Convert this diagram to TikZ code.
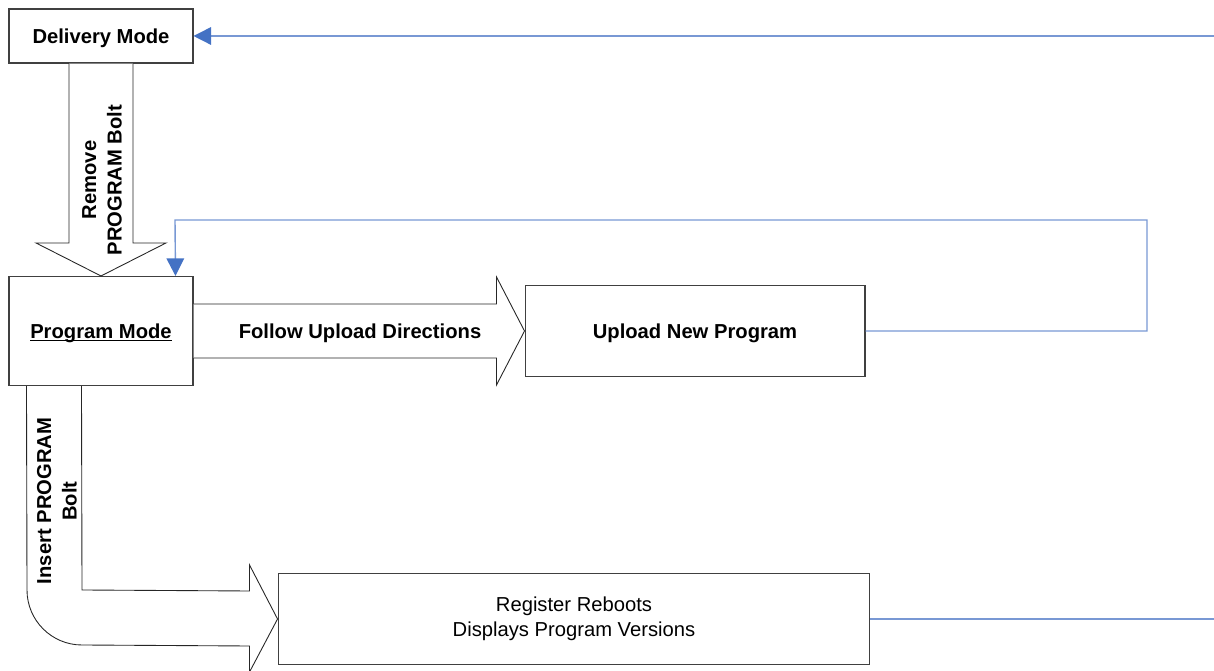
\documentclass[tikz,border=0pt]{standalone}
\usepackage{fontspec}
\setmainfont{Liberation Sans}
\usetikzlibrary{arrows.meta,calc}

\definecolor{tipblue}{RGB}{68,114,196}
\definecolor{lineblue}{RGB}{120,152,212}

% underline close to the baseline
\newcommand{\modeline}[1]{\setbox0\hbox{#1}\rlap{\rule[-1.6pt]{\wd0}{0.7pt}}\box0}

\begin{document}
\begin{tikzpicture}[x=0.02cm,y=-0.02cm,
    box/.style={draw=black!75, line width=0.6pt, fill=white, align=center,
                font=\fontsize{11.5}{14.5}\selectfont},
    boldbox/.style={box, text depth=0pt, font=\fontsize{11.5}{14.5}\selectfont\bfseries},
    bigarrow/.style={draw=black!85, line width=0.5pt, fill=white},
    arrowtext/.style={align=center, font=\fontsize{11.5}{14.5}\selectfont\bfseries},
    fbline/.style={draw=lineblue, line width=0.8pt},
    feedback/.style={fbline, -{Triangle[length=10pt,width=10pt,color=tipblue]}}]

    % Fix the page size
    \useasboundingbox (0,0) rectangle (1214,671);

    % Draw the boxes
    \node[boldbox, minimum width=3.68cm, minimum height=1.08cm] (deliv) at (101,36) {Delivery Mode};
    \node[boldbox, minimum width=3.68cm, minimum height=2.18cm] (prog) at (101,331) {\modeline{Program Mode}};
    \node[boldbox, minimum width=6.8cm, minimum height=1.82cm] (upload) at (695,331) {Upload New Program};
    \node[box, minimum width=11.84cm, minimum height=1.82cm] (reg) at (574,619)
        {Register Reboots\\Displays Program Versions};

    % Down arrow from delivery to program
    \draw[bigarrow] ($(deliv.south)+(-32,0)$) -- ($(prog.north)+(-32,-33)$)
        -- ($(prog.north)+(-65,-33)$) -- (prog.north) -- ($(prog.north)+(65,-33)$)
        -- ($(prog.north)+(32,-33)$) -- ($(deliv.south)+(32,0)$);
    \node[arrowtext, rotate=90] (remove) at (102,180) {Remove\\PROGRAM Bolt};

    % Right arrow from program to upload
    \draw[bigarrow] ($(prog.east)+(0,-27)$) -- ($(upload.west)+(-28,-27)$)
        -- ($(upload.west)+(-28,-54)$) -- (upload.west) -- ($(upload.west)+(-28,54)$)
        -- ($(upload.west)+(-28,27)$) -- ($(prog.east)+(0,27)$);
    \node[arrowtext, text depth=0pt] (follow) at (360,331) {Follow Upload Directions};

    % Bent arrow from program to register
    \coordinate (outer) at ($(prog.south west)+(18,0)$);
    \coordinate (inner) at ($(prog.south west)+(73,0)$);
    \draw[bigarrow] (outer) -- (27,590) arc[start angle=180, end angle=90, radius=55]
        -- ($(reg.west)+(-28,27)$) -- ($(reg.west)+(-28,53)$) -- (reg.west)
        -- ($(reg.west)+(-28,-54)$) -- ($(reg.west)+(-28,-28)$) -- (82,590) -- (inner);
    \node[arrowtext, rotate=90] (insert) at (57,501) {Insert PROGRAM\\Bolt};

    % Blue feedback lines
    \coordinate (topright) at (1214,36);
    \coordinate (botright) at (reg.east -| topright);
    \draw[feedback] (topright) -- (deliv.east);
    \draw[feedback] (upload.east) -- (1147,331) -- (1147,220) -- (175,220)
        -- ($(prog.north east)+(-18,0)$);
    \draw[fbline] (reg.east) -- (botright);

\end{tikzpicture}
\end{document}
